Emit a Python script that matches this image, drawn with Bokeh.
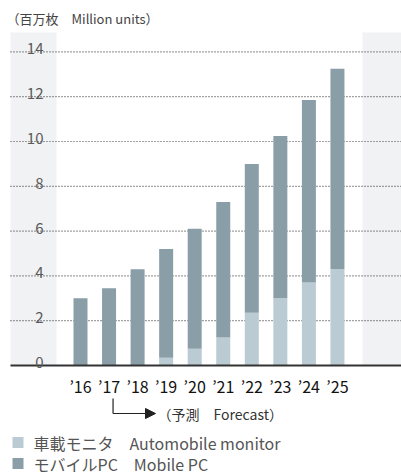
from bokeh.plotting import figure
from bokeh.models import ColumnDataSource, Range1d, Arrow, NormalHead
from bokeh.embed import file_html
from bokeh.resources import INLINE
from bokeh.core.properties import value

# ---- data ----
years = ["\u201916", "\u201917", "\u201918", "\u201919", "\u201920",
         "\u201921", "\u201922", "\u201923", "\u201924", "\u201925"]
automobile_monitor = [0, 0, 0, 0.35, 0.75, 1.25, 2.35, 3.0, 3.7, 4.3]
mobile_pc = [3.0, 3.45, 4.3, 4.85, 5.35, 6.05, 6.65, 7.25, 8.15, 8.95]
y_ticks = [0, 2, 4, 6, 8, 10, 12, 14]
unit_label = "\uff08百万枚\u3000Million units\uff09"
forecast_label = "\uff08予測\u3000Forecast\uff09"
legend_labels = ["車載モニタ\u3000Automobile monitor", "モバイルPC\u3000Mobile PC"]

C_MOB = "#8a9ea8"
C_AUTO = "#bacbd3"
C_PANEL = "#f1f2f4"
FONT = value("Noto Sans CJK JP")

# pixel geometry -> data ranges
PX_X0, PX_DX = 80.0, 28.55      # centre of first bar, bar pitch
PX_Y0, PX_DY = 365.0, 22.4      # baseline, px per unit
W, H = 401, 474

def dx(px):
    return (px - PX_X0) / PX_DX

def dy(py):
    return (PX_Y0 - py) / PX_DY

p = figure(width=W, height=H, output_backend="svg", toolbar_location=None,
           x_range=Range1d(dx(0), dx(W)), y_range=Range1d(dy(H), dy(0)),
           x_axis_location=None, y_axis_location=None, min_border=0)
p.outline_line_color = None
p.grid.visible = False
p.background_fill_color = "white"

xs = list(range(len(years)))

# grey side panels
p.quad(left=[dx(10), dx(362)], right=[dx(56), dx(W + 2)],
       bottom=[0, 0], top=[dy(32), dy(32)], fill_color=C_PANEL, line_color=None)

# dotted gridlines
grid_vals = [t for t in y_ticks if t > 0]
p.segment(x0=[dx(10)] * len(grid_vals), x1=[dx(W)] * len(grid_vals),
          y0=grid_vals, y1=grid_vals, line_color="#444444",
          line_width=1.2, line_dash="1 2")

# stacked bars
src = ColumnDataSource(dict(x=xs, auto=automobile_monitor, mob=mobile_pc))
p.vbar_stack(["auto", "mob"], x="x", width=14 / PX_DX, source=src,
             color=[C_AUTO, C_MOB], line_color=None)

# baseline axis
p.segment(x0=[dx(10)], x1=[dx(W)], y0=[0], y1=[0], line_color="#333333", line_width=2)

# y tick labels
p.text(x=[dx(43)] * len(y_ticks), y=y_ticks, text=[str(t) for t in y_ticks],
       text_align="right", text_baseline="alphabetic", y_offset=-3,
       text_font=FONT, text_font_size="15px", text_color="#5a5a5a")

# x labels
p.text(x=xs, y=[0] * len(xs), text=years, text_align="center",
       text_baseline="middle", y_offset=20, text_font=FONT,
       text_font_size="16px", text_color="#111111")

# unit label
p.text(x=[dx(6)], y=[dy(18)], text=[unit_label], text_align="left",
       text_baseline="middle", text_font=FONT, text_font_size="13px",
       text_color="#444444")

# forecast arrow
ax = 1 + 4 / PX_DX
p.segment(x0=[ax], x1=[ax], y0=[dy(398)], y1=[dy(413)], line_color="#222222", line_width=1.2)
p.add_layout(Arrow(end=NormalHead(size=10, fill_color="#222222", line_color="#222222"),
                   x_start=ax, y_start=dy(413), x_end=dx(155), y_end=dy(413),
                   line_color="#222222", line_width=1.2))
p.text(x=[dx(157)], y=[dy(413)], text=[forecast_label], text_align="left",
       text_baseline="middle", text_font=FONT, text_font_size="14px",
       text_color="#333333")

# legend
p.scatter(x=[dx(17.5)] * 2, y=[dy(442), dy(463)], marker="square", size=11,
          fill_color=[C_AUTO, C_MOB], line_color=None)
p.text(x=[dx(33)] * 2, y=[dy(442), dy(463)], text=legend_labels, text_align="left",
       text_baseline="middle", text_font=FONT, text_font_size="16px",
       text_color="#555555")

open("out.html", "w").write(file_html(p, INLINE))
